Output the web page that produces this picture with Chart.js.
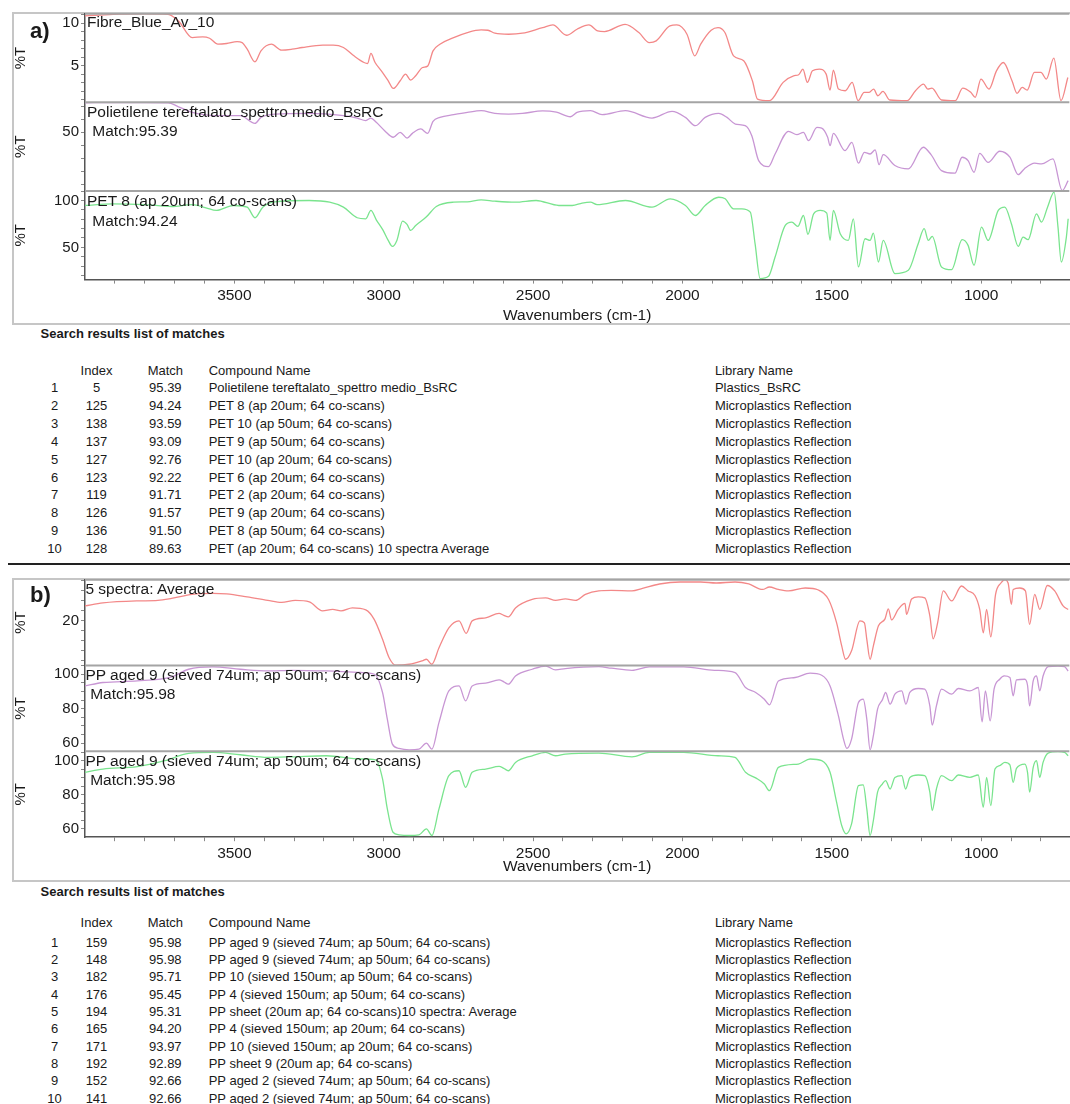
<!doctype html>
<html lang="en">
<head>
<meta charset="utf-8">
<title>FTIR spectra - search results</title>
<script src="https://cdn.jsdelivr.net/npm/chart.js@4.4.0/dist/chart.umd.min.js"></script>
<style>
  html, body { margin: 0; padding: 0; }
  body { position: relative; width: 1070px; height: 1104px; overflow: hidden; background: #fff;
         font-family: "Liberation Sans", Arial, sans-serif; color: #1a1a1a; }
  .frame { position: absolute; left: 12px; width: 1080px; border: 2px solid #c6c6c6; box-sizing: border-box; }
  .plot { position: absolute; left: 0; width: 1070px; }
  .lbl { position: absolute; font-size: 15.5px; line-height: 1; white-space: nowrap; }
  .tag { position: absolute; left: 30px; font-size: 22px; font-weight: bold; line-height: 1; }
  .caption { position: absolute; left: 40.5px; font-size: 13px; font-weight: bold; line-height: 16px; white-space: nowrap; }
  .rule { position: absolute; left: 8px; top: 562.8px; width: 1062px; height: 2.5px; background: #222; }
  table.res { position: absolute; left: 38px; border-collapse: collapse; table-layout: fixed; font-size: 13px; }
  table.res td { padding: 0; white-space: nowrap; overflow: visible; }
  table.res td.c { text-align: center; }
</style>
</head>
<body>

<div class="frame" style="top:12px;height:313px;"></div>
<div class="plot" id="boxA" style="top:12.7px;height:311.6px;"><canvas id="chartA"></canvas></div>
<div class="tag" style="top:19.5px;">a)</div>
<div class="lbl" style="left:87px;top:14.4px;">Fibre_Blue_Av_10</div>
<div class="lbl" style="left:87px;top:103.9px;">Polietilene tereftalato_spettro medio_BsRC</div>
<div class="lbl" style="left:92.3px;top:123.2px;">Match:95.39</div>
<div class="lbl" style="left:87px;top:193px;">PET 8 (ap 20um; 64 co-scans)</div>
<div class="lbl" style="left:92.3px;top:213px;">Match:94.24</div>
<div class="caption" style="top:326px;">Search results list of matches</div>
<table class="res" id="tabA" style="top:362px;"></table>

<div class="rule"></div>

<div class="frame" style="top:578px;height:304px;"></div>
<div class="plot" id="boxB" style="top:578.5px;height:303.2px;"><canvas id="chartB"></canvas></div>
<div class="tag" style="top:583.5px;">b)</div>
<div class="lbl" style="left:85.4px;top:581.3px;">5 spectra: Average</div>
<div class="lbl" style="left:85.4px;top:667px;">PP aged 9 (sieved 74um; ap 50um; 64 co-scans)</div>
<div class="lbl" style="left:90.2px;top:686.3px;">Match:95.98</div>
<div class="lbl" style="left:85.4px;top:753px;">PP aged 9 (sieved 74um; ap 50um; 64 co-scans)</div>
<div class="lbl" style="left:90.2px;top:772.3px;">Match:95.98</div>
<div class="caption" style="top:883.7px;">Search results list of matches</div>
<table class="res" id="tabB" style="top:913px;"></table>

<script>
// ---- panel a spectra (wavenumber cm-1, %T) ----
const wnRedA = [4000,3906,3802,3722,3687,3641,3606,3583,3555,3526,3491,3474,3457,3431,3411,3376,3342,3307,3273,3204,3169,3135,3100,3066,3054,3043,3029,3008,2985,2968,2945,2927,2910,2893,2870,2853,2835,2812,2766,2720,2674,2651,2628,2582,2536,
  2468,2434,2388,2353,2313,2284,2261,2192,2146,2111,2088,2042,2019,1985,1959,1939,1904,1881,1858,1829,1795,1766,1749,1709,1663,1628,1611,1597,1582,1565,1542,1519,1506,1495,1478,1455,1432,1412,1392,1375,1360,1346,1329,1306,1248,1220,1193,1179,1165,1133,1087,1062,1035,1020,1001,974,949,926,897,880,863,846,822,800,782,757,733,710];
const tRedA = [10.86,11.05,11.1,11.05,10.27,8.32,8.40,8.24,7.54,7.62,7.85,7.73,6.95,5.47,6.76,7.54,6.84,6.95,7.15,7.42,7.42,7.15,6.17,5.39,5.27,6.45,5.39,4.41,3.24,2.34,3.24,4.02,3.32,3.83,4.80,4.96,6.76,7.54,8.32,8.91,9.22,9.18,8.83,8.71,8.83,
  9.49,9.80,8.59,9.30,9.80,9.10,9.02,9.88,8.91,7.73,7.93,9.69,9.80,8.71,6.17,7.54,9.18,9.49,8.91,6.17,5.59,3.24,1.09,0.9,3.05,3.83,3.95,4.61,3.05,4.41,4.61,4.02,2.15,4.49,2.27,2.07,3.05,0.9,1.88,1.88,2.27,1.48,1.99,0.98,0.9,2.07,2.85,2.27,2.38,0.98,0.9,2.38,1.88,1.29,3.44,2.27,4.41,5.39,3.24,1.76,2.46,2.15,4.22,4.22,3.44,5.90,0.9,3.63];

const wnPurA = [4000,3906,3802,3722,3687,3641,3549,3480,3431,3411,3365,3250,3135,3089,3060,3043,3025,2997,2968,2945,2922,2904,2876,2853,2835,2812,2766,2720,2674,2628,2582,2536,2468,2422,2375,2353,2308,2269,2191,2102,2035,1990,1957,1924,1879,1851,1823,1790,1768,1745,1712,1690,1645,1617,1595,1578,1550,1534,1514,1506,1495,1456,1433,1411,1391,1372,1355,1342,1328,1289,1244,1194,1168,1133,1088,1064,1044,1024,1005,977,938,904,876,856,821,798,760,729,709];
const tPurA = [72.8,72.9,72.9,72.8,69.7,65.4,62.8,62.8,56.9,61.5,64.1,64.6,62.8,61.0,59.0,61.0,57.7,51.3,46.2,50.0,45.6,49.2,52.6,49.2,58.5,61.5,63.6,65.4,66.7,64.6,64.1,64.6,66.5,65.5,62.0,65.4,66.7,63.6,66.7,61.0,66.2,61.5,55.1,61.5,64.6,61.5,56.4,55.1,47.4,28.2,23.6,33.3,50.8,48.2,50.0,43.6,53.8,53.3,46.2,39.7,49.2,35.9,42.3,26.2,34.6,33.3,36.4,25.1,32.8,24.4,21.8,38.5,32.8,20.5,18.5,30.8,28.2,19.2,33.8,26.9,35.4,30.8,17.4,21.8,26.2,25.6,29.5,5.1,12.8];

const wnGrnA = [4000,3906,3802,3710,3641,3595,3560,3503,3457,3431,3405,3365,3250,3181,3135,3089,3060,3043,3025,3002,2985,2971,2956,2937,2922,2910,2893,2858,2824,2766,2720,2674,2628,2559,2490,
  2414,2369,2336,2308,2286,2191,2102,2041,1990,1957,1924,1879,1857,1829,1801,1773,1757,1740,1712,1690,1656,1634,1614,1595,1580,1561,
  1539,1517,1506,1495,1472,1445,1428,1411,1389,1372,1361,1344,1328,1289,1244,1211,1191,1177,1164,1133,1099,1064,1044,1024,999,977,943,921,899,876,860,843,815,798,778,756,743,732,715,709];
const tGrnA = [94.7,96.5,95.7,93.6,95.7,92.2,89.4,94.7,92.9,81.6,92.9,98.6,100,98.2,92.9,81.6,80.5,89.4,79.4,68.1,57.4,51.1,57.4,78.0,74.5,68.1,73.4,82.3,93.6,98.2,98.6,100.7,99.3,98.2,100,
  94.7,94.7,97.2,98.2,95.7,100,92.9,101.8,94.7,84.0,94.7,103.5,101.8,91.1,91.1,87.6,53.9,16.7,19.1,39.7,73.4,77.0,72.3,84.0,63.8,85.8,
  89.4,86.5,57.4,89.4,64.5,57.4,80.5,29.1,59.2,57.4,65.2,34.4,57.4,22.0,25.5,53.9,69.9,57.4,61.7,29.1,26.2,58.2,52.1,30.9,71.6,57.4,89.4,92.9,75.2,51.1,61.0,58.2,85.8,77.0,92.9,108.9,71.6,34.4,61.0,80.5];

// ---- panel b spectra ----
const wnRedB = [4000,3940,3825,3756,3710,3641,3572,3526,3457,3388,3342,3296,3249,3205,3171,3143,3105,3060,3032,3004,2982,2960,2915,2871,2857,2839,2815,2782,2748,2724,2704,2659,2614,2598,2583,2559,2503,2458,2425,2392,2358,2325,2280,
  2238,2169,2134,2077,2008,1939,1887,1824,1778,1732,1709,1679,1645,1589,1545,1511,1484,1467,1454,1434,1406,1391,1383,1372,1361,1344,1322,1311,1300,1278,1255,1250,1233,1211,1189,1172,1161,1146,1127,1099,1066,1044,1021,1005,993,982,968,952,934,921,910,899,893,871,852,838,821,804,779,754,726,709];
const tRedB = [22.9,23.5,23.9,24.0,24.4,25.2,25.4,25.3,24.7,24.0,23.6,24.0,23.7,21.9,22.2,21.9,22.5,22.1,20.2,16.2,12.5,11.0,11.2,11.9,12.2,11.2,14.5,18.5,19.9,17.4,19.9,20.5,21.4,21.0,20.7,22.5,24.2,24.5,24.0,24.3,24.0,25.2,25.9,
  26.0,25.9,26.4,27.3,27.7,27.7,27.5,27.7,27.3,26.2,26.7,26.2,25.9,26.5,26.1,24.2,19.5,14.9,12.2,13.9,19.9,19.5,16.2,12.2,14.9,18.9,20.3,22.3,20.1,22.2,23.4,21.2,24.3,24.7,24.5,20.9,16.3,19.5,25.9,23.9,26.9,25.9,25.0,22.2,17.5,22.2,16.7,25.2,27.5,28.2,27.5,23.2,26.2,26.5,25.9,19.2,25.2,22.2,27.0,25.9,22.9,22.2];

const wnPurB = [4000,3940,3825,3710,3653,3572,3480,3388,3307,3192,3077,3031,3004,2988,2971,2949,2915,2882,2857,2839,2815,2782,2748,2726,2704,2659,2614,2598,2583,2559,2503,2458,2425,2392,2280,2238,2169,2111,1996,1893,1824,1789,1755,1726,1709,
  1679,1623,1573,1534,1506,1478,1461,1450,1434,1411,1395,1383,1372,1361,1347,1331,1320,1305,1289,1266,1252,1239,1211,1189,1172,1164,1150,1133,1099,1077,1038,1010,997,986,970,957,938,923,904,893,882,854,845,838,826,815,804,793,776,743,721,709];
const tPurB = [93.2,95.2,96.1,98.5,102.9,104.3,102.9,101.9,102.3,101.9,101.0,100,89.4,73.9,59.4,56.9,56.1,56.5,60.0,56.5,72.0,90.3,93.2,84.5,93.2,94.8,96.7,95.6,94.2,99.0,102.9,104.8,102.5,103.3,104.4,103.5,102.3,104.3,104.3,102.3,101.0,92.3,89.4,85.5,82.2,
  96.1,98.1,100.6,99.4,93.2,75.8,62.3,56.9,62.3,83.6,85.5,73.9,56.1,64.3,79.7,85.1,89.4,82.6,88.4,90.3,82.6,89.4,91.7,91.3,81.6,70.4,81.6,91.3,88.4,91.7,90.3,92.3,72.4,90.3,72.9,91.3,97.1,99.0,98.1,87.4,96.7,97.1,93.6,81.6,96.1,99.0,90.3,99.0,104.4,104.8,104.4,101.9];

const wnGrnB = [4000,3940,3825,3733,3653,3572,3480,3388,3307,3192,3077,3027,3004,2988,2969,2949,2915,2882,2857,2839,2815,2782,2748,2726,2704,2659,2614,2598,2583,2559,2503,2458,2425,2392,2280,2169,2111,1996,1881,1824,1789,1755,1726,1709,
  1679,1612,1573,1534,1506,1484,1467,1452,1434,1411,1395,1383,1372,1361,1347,1331,1320,1305,1289,1266,1253,1239,1211,1189,1172,1164,1150,1133,1099,1077,1038,1010,993,982,968,954,938,921,904,893,882,854,845,838,826,815,804,793,776,743,721,709];
const tGrnB = [93.2,95.1,96.5,100,104.3,104.9,103.5,102.0,102.3,102.9,101.0,100.5,89.3,71.7,58.0,56.5,56.1,56.5,60.0,56.1,71.7,91.2,94.1,84.4,93.2,95.1,96.7,95.5,94.1,99.0,102.9,104.9,102.9,103.9,104.5,102.3,104.9,104.9,102.9,102.0,93.2,89.9,86.3,82.4,
  96.1,98.0,101.0,100,93.2,75.6,62.0,57.1,62.9,85.4,85.8,71.7,56.1,64.9,81.5,86.3,88.3,83.4,90.2,91.2,83.4,90.2,91.6,91.2,81.5,70.7,83.4,91.2,88.3,91.6,90.2,91.6,72.7,90.2,73.7,95.1,97.1,99.0,97.5,87.3,95.5,98.0,93.2,81.5,96.1,100,90.2,99.0,104.5,105.3,104.9,102.9];

// x axis: minor ticks every 100 cm-1, labels every 500
const xTicks = [800,900,1000,1100,1200,1300,1400,1500,1600,1700,1800,1900,2000,2100,2200,2300,2400,2500,2600,2700,2800,2900,3000,3100,3200,3300,3400,3500,3600,3700,3800,3900];
const xLabels = [1000,1500,2000,2500,3000,3500];

// ---- search result tables ----
const rankNo = [1,2,3,4,5,6,7,8,9,10];
const idxA = [5,125,138,137,127,123,119,126,136,128];
const matchA = ['95.39','94.24','93.59','93.09','92.76','92.22','91.71','91.57','91.50','89.63'];
const compA = ['Polietilene tereftalato_spettro medio_BsRC','PET 8 (ap 20um; 64 co-scans)','PET 10 (ap 50um; 64 co-scans)',
  'PET 9 (ap 50um; 64 co-scans)','PET 10 (ap 20um; 64 co-scans)','PET 6 (ap 20um; 64 co-scans)','PET 2 (ap 20um; 64 co-scans)',
  'PET 9 (ap 20um; 64 co-scans)','PET 8 (ap 50um; 64 co-scans)','PET (ap 20um; 64 co-scans) 10 spectra Average'];
const libA = ['Plastics_BsRC'].concat(Array(9).fill('Microplastics Reflection'));

const idxB = [159,148,182,176,194,165,171,192,152,141];
const matchB = ['95.98','95.98','95.71','95.45','95.31','94.20','93.97','92.89','92.66','92.66'];
const compB = ['PP aged 9 (sieved 74um; ap 50um; 64 co-scans)','PP aged 9 (sieved 74um; ap 50um; 64 co-scans)',
  'PP 10 (sieved 150um; ap 50um; 64 co-scans)','PP 4 (sieved 150um; ap 50um; 64 co-scans)',
  'PP sheet (20um ap; 64 co-scans)10 spectra: Average','PP 4 (sieved 150um; ap 20um; 64 co-scans)',
  'PP 10 (sieved 150um; ap 20um; 64 co-scans)','PP sheet 9 (20um ap; 64 co-scans)',
  'PP aged 2 (sieved 74um; ap 50um; 64 co-scans)','PP aged 2 (sieved 74um; ap 50um; 64 co-scans)'];
const libB = Array(10).fill('Microplastics Reflection');

const RED = 'rgb(243,136,136)', PURPLE = 'rgb(200,150,212)', GREEN = 'rgb(122,228,142)';
const FONT = '"Liberation Sans", Arial, sans-serif';
Chart.defaults.font.family = FONT;
Chart.defaults.color = '#1a1a1a';

function pts(wn, t) {
  return wn.map((w, i) => ({x: w, y: t[i]}));
}

// gray lines between the stacked strips
const stripLines = {
  id: 'stripLines',
  afterDatasetsDraw(chart) {
    const ctx = chart.ctx, area = chart.chartArea;
    ctx.save();
    ctx.strokeStyle = '#a4a4a4';
    ctx.lineWidth = 2;
    ['y1', 'y2', 'y3'].forEach(id => {
      const s = chart.scales[id];
      ctx.beginPath();
      ctx.moveTo(area.left, s.top);
      ctx.lineTo(area.right, s.top);
      ctx.stroke();
    });
    ctx.restore();
  }
};

function yAxis(min, max, step, major) {
  return {
    type: 'linear', position: 'left', stack: 'strips', stackWeight: 1,
    min: min, max: max,
    border: {display: true, color: '#555', width: 1.5},
    grid: {display: true, drawOnChartArea: false, drawTicks: true, tickLength: 4, color: '#888'},
    ticks: {stepSize: step, includeBounds: false, autoSkip: false, padding: 2, font: {size: 15},
            callback: v => major.includes(v) ? String(v) : ''},
    title: {display: true, text: '%T', font: {size: 15}, padding: {top: 11.7, bottom: 0}},
    afterFit: s => { s.width = 85; s.paddingTop = 0; s.paddingBottom = 0; }
  };
}

function xAxis(titleBottom) {
  return {
    type: 'linear', position: 'bottom', reverse: true, min: 705, max: 4000,
    border: {display: true, color: '#555', width: 1.5},
    grid: {display: true, drawOnChartArea: false, drawTicks: true, tickLength: 4, color: '#888'},
    afterBuildTicks: s => { s.ticks = xTicks.map(v => ({value: v})); },
    ticks: {autoSkip: false, maxRotation: 0, minRotation: 0, padding: 3, font: {size: 15.5},
            callback: v => xLabels.includes(Math.round(v)) ? String(Math.round(v)) : ''},
    title: {display: true, text: 'Wavenumbers (cm-1)', font: {size: 15.5}, padding: {top: 0, bottom: titleBottom}},
    afterFit: s => { s.height = 45; s.paddingLeft = 0; s.paddingRight = 0; }
  };
}

function line(data, axis, color) {
  return {data: data, yAxisID: axis, borderColor: color, borderWidth: 1.3, pointRadius: 0,
          showLine: true, fill: false, cubicInterpolationMode: 'monotone'};
}

function makePanel(id, sets, y1, y2, y3, titleBottom) {
  // y axes listed bottom strip first: Chart.js puts the last one of a stack on top
  return new Chart(document.getElementById(id), {
    type: 'scatter',
    data: {datasets: [line(sets[0], 'y1', RED), line(sets[1], 'y2', PURPLE), line(sets[2], 'y3', GREEN)]},
    options: {
      responsive: true, maintainAspectRatio: false, animation: false, events: [],
      layout: {padding: 0},
      plugins: {legend: {display: false}, tooltip: {enabled: false}},
      scales: {x: xAxis(titleBottom), y3: y3, y2: y2, y1: y1}
    },
    plugins: [stripLines]
  });
}

makePanel('chartA',
  [pts(wnRedA, tRedA), pts(wnPurA, tPurA), pts(wnGrnA, tGrnA)],
  yAxis(0.71, 11.13, 1, [5, 10]),
  yAxis(4.8, 73.15, 10, [50]),
  yAxis(15.6, 110.2, 10, [50, 100]),
  0);

makePanel('chartB',
  [pts(wnRedB, tRedB), pts(wnPurB, tPurB), pts(wnGrnB, tGrnB)],
  yAxis(10.95, 28.17, 2, [20]),
  yAxis(55.19, 105.08, 5, [60, 80, 100]),
  yAxis(55.1, 105.49, 5, [60, 80, 100]),
  5.9);

// tables
function fillTable(id, idx, match, comp, lib, headH, rowH) {
  const tab = document.getElementById(id);
  const widths = [33, 51, 86.7, 506.2, 300];
  const cg = document.createElement('colgroup');
  widths.forEach(w => { const c = document.createElement('col'); c.style.width = w + 'px'; cg.appendChild(c); });
  tab.appendChild(cg);
  const addRow = (cells, h) => {
    const tr = document.createElement('tr');
    tr.style.height = h + 'px';
    cells.forEach((txt, i) => {
      const td = document.createElement('td');
      td.textContent = txt;
      td.style.lineHeight = h + 'px';
      if (i < 3) td.className = 'c';
      tr.appendChild(td);
    });
    tab.appendChild(tr);
  };
  addRow(['', 'Index', 'Match', 'Compound Name', 'Library Name'], headH);
  rankNo.forEach((r, i) => addRow([String(r), String(idx[i]), match[i], comp[i], lib[i]], rowH));
}
fillTable('tabA', idxA, matchA, compA, libA, 17.35, 17.85);
fillTable('tabB', idxB, matchB, compB, libB, 20.67, 17.33);
</script>
</body>
</html>
